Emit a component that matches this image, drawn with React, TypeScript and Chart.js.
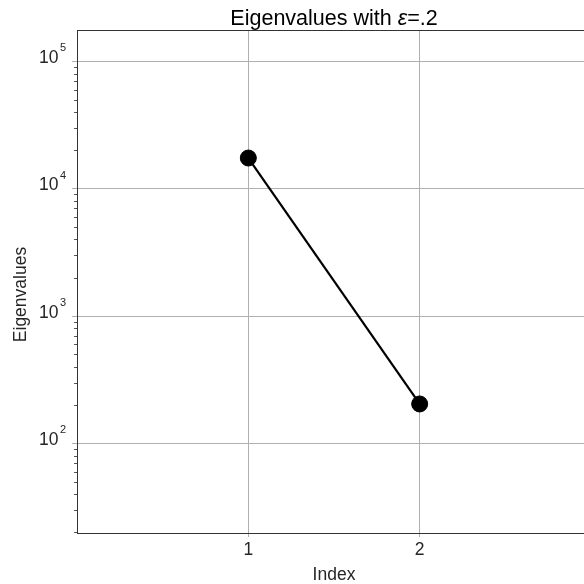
import { useEffect, useRef } from 'react';
import { Chart, registerables } from 'chart.js';
Chart.register(...registerables);

const indices = [1, 2];
const eigenvalues = [17400, 204];
const xTicks = [1, 2];
const yTicks = [100, 1000, 10000, 100000];
const yExponents = ['2', '3', '4', '5'];
const xRange = [0, 3];
const yRange = [19.8, 176000];
const titleParts = ['Eigenvalues with ', 'ε', '=.2'];
const xLabel = 'Index';
const yLabel = 'Eigenvalues';

const FONT = "'Liberation Sans', Arial, sans-serif";

const decor = {
  id: 'decor',
  afterDraw(chart: any) {
    const { ctx, chartArea } = chart;
    const ys = chart.scales.y;
    ctx.save();
    // frame
    ctx.strokeStyle = '#333';
    ctx.lineWidth = 1;
    ctx.strokeRect(chartArea.left + 0.5, chartArea.top + 0.5, chartArea.right - chartArea.left, chartArea.bottom - chartArea.top);
    // minor ticks
    ctx.strokeStyle = '#555';
    for (let d = 1; d <= 5; d++) {
      for (let k = 2; k <= 9; k++) {
        const v = k * Math.pow(10, d);
        if (v < yRange[0] || v > yRange[1]) continue;
        const py = Math.round(ys.getPixelForValue(v)) + 0.5;
        ctx.beginPath();
        ctx.moveTo(chartArea.left - 3, py);
        ctx.lineTo(chartArea.left, py);
        ctx.stroke();
      }
    }
    // y tick labels
    ctx.fillStyle = '#262626';
    yTicks.forEach((v, i) => {
      const py = ys.getPixelForValue(v);
      ctx.font = `17.5px ${FONT}`;
      ctx.textAlign = 'right';
      ctx.textBaseline = 'alphabetic';
      ctx.fillText('10', chartArea.left - 18.5, py + 1.8);
      ctx.font = `11px ${FONT}`;
      ctx.textAlign = 'left';
      ctx.fillText(yExponents[i], chartArea.left - 17, py - 10);
    });
    // y axis title
    ctx.save();
    ctx.translate(21, (chartArea.top + chartArea.bottom) / 2 + 13);
    ctx.rotate(-Math.PI / 2);
    ctx.font = `17.5px ${FONT}`;
    ctx.textAlign = 'center';
    ctx.textBaseline = 'middle';
    ctx.fillText(yLabel, 0, 0);
    ctx.restore();
    // title
    const fonts = [`21.5px ${FONT}`, `italic 21.5px ${FONT}`, `21.5px ${FONT}`];
    let total = 0;
    const widths = titleParts.map((t, i) => {
      ctx.font = fonts[i];
      const w = ctx.measureText(t).width;
      total += w;
      return w;
    });
    let x = (chartArea.left + chartArea.right) / 2 - total / 2;
    ctx.textAlign = 'left';
    ctx.textBaseline = 'alphabetic';
    ctx.fillStyle = '#000';
    titleParts.forEach((t, i) => {
      ctx.font = fonts[i];
      ctx.fillText(t, x, 25);
      x += widths[i];
    });
    ctx.restore();
  },
};

export default function App() {
  const ref = useRef<HTMLCanvasElement>(null);
  useEffect(() => {
    if (!ref.current) return;
    const chart = new Chart(ref.current, {
      type: 'line',
      data: {
        datasets: [
          {
            data: indices.map((x, i) => ({ x, y: eigenvalues[i] })),
            borderColor: '#000',
            backgroundColor: '#000',
            borderWidth: 2.2,
            pointRadius: 8,
            pointBorderWidth: 1,
            pointBackgroundColor: '#000',
            pointBorderColor: '#000',
            tension: 0,
          },
        ],
      },
      options: {
        animation: false,
        responsive: true,
        maintainAspectRatio: false,
        layout: { padding: { top: 30, right: 8, left: 0, bottom: 0 } },
        plugins: { legend: { display: false }, tooltip: { enabled: false }, title: { display: false } },
        scales: {
          x: {
            type: 'linear',
            min: xRange[0],
            max: xRange[1],
            afterBuildTicks: (s: any) => {
              s.ticks = xTicks.map((v) => ({ value: v }));
            },
            afterFit: (s: any) => {
              s.height = 51;
            },
            ticks: {
              font: { size: 17.5, family: FONT },
              color: '#262626',
              padding: 3,
              maxRotation: 0,
              callback: (v: any) => String(v),
            },
            grid: { color: '#b0b0b0', lineWidth: 1, tickLength: 4, drawTicks: true },
            border: { display: false },
            title: {
              display: true,
              text: xLabel,
              font: { size: 17.5, family: FONT, lineHeight: 1 },
              color: '#262626',
              padding: 0,
            },
          },
          y: {
            type: 'logarithmic',
            min: yRange[0],
            max: yRange[1],
            afterBuildTicks: (s: any) => {
              s.ticks = yTicks.map((v) => ({ value: v }));
            },
            afterFit: (s: any) => {
              s.width = 77;
            },
            ticks: { display: false },
            grid: { color: '#b0b0b0', lineWidth: 1, tickLength: 5, drawTicks: true },
            border: { display: false },
          },
        },
      },
      plugins: [decor],
    } as any);
    return () => chart.destroy();
  }, []);
  return (
    <div style={{ position: 'absolute', left: 0, top: 0, width: 584, height: 584, overflow: 'hidden', background: '#fff' }}>
      <div style={{ position: 'relative', width: 600, height: 584 }}>
        <canvas ref={ref} />
      </div>
    </div>
  );
}
